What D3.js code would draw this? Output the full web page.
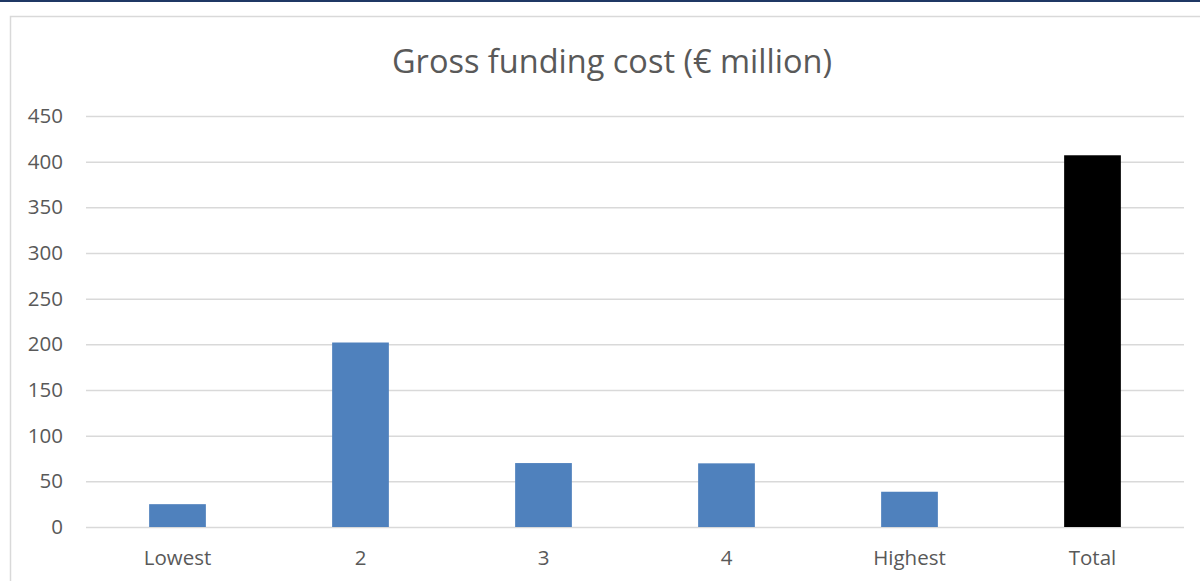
<!DOCTYPE html>
<html>
<head>
<meta charset="utf-8">
<script src="https://cdn.jsdelivr.net/npm/d3@7"></script>
<style>
  html, body { margin: 0; padding: 0; background: #fff; }
  svg { display: block; }
</style>
</head>
<body>
<svg id="chart" width="1200" height="581"></svg>
<script>
// Gross funding cost by group, € million
const categories = ["Lowest", "2", "3", "4", "Highest", "Total"];
const costs = [25, 202, 70, 69.7, 38.6, 407];
const yTicks = [0, 50, 100, 150, 200, 250, 300, 350, 400, 450];
const titleText = "Gross funding cost (€ million)";

const svg = d3.select("#chart");
const W = 1200, H = 581;
const plot = { left: 86, right: 1184, top: 116, bottom: 527 };
const font = "'Open Sans', 'Liberation Sans', sans-serif";

// page rule along the top edge
svg.append("rect").attr("x", 0).attr("y", 0).attr("width", W).attr("height", 2)
  .attr("fill", "#1f3864");

// chart area frame
svg.append("rect").attr("x", 10.5).attr("y", 16.5).attr("width", W + 10).attr("height", H)
  .attr("fill", "#fff").attr("stroke", "#d9d9d9").attr("stroke-width", 1.5);

const x = d3.scaleBand()
  .domain(categories)
  .range([plot.left, plot.right])
  .paddingInner(0.69)
  .paddingOuter(0.345);

const y = d3.scaleLinear()
  .domain([0, 450])
  .range([plot.bottom, plot.top]);

// horizontal gridlines with value labels
const yAxis = d3.axisLeft(y)
  .tickValues(yTicks)
  .tickSize(-(plot.right - plot.left))
  .tickPadding(23);
const gy = svg.append("g").attr("transform", `translate(${plot.left},0)`).call(yAxis);
gy.select(".domain").remove();
gy.selectAll(".tick line").attr("stroke", "#d9d9d9").attr("stroke-width", 1.5);
gy.selectAll(".tick text")
  .attr("fill", "#595959")
  .style("font-family", font)
  .style("font-size", "20.5px");

// bars
svg.append("g").selectAll("rect")
  .data(categories.map((c, i) => ({ c, v: costs[i] })))
  .join("rect")
  .attr("x", d => x(d.c))
  .attr("y", d => y(d.v))
  .attr("width", x.bandwidth())
  .attr("height", d => y(0) - y(d.v))
  .attr("fill", d => d.c === "Total" ? "#000000" : "#4f81bd");

// category labels
const xAxis = d3.axisBottom(x).tickSize(0).tickPadding(23);
const gx = svg.append("g").attr("transform", `translate(0,${plot.bottom})`).call(xAxis);
gx.select(".domain").remove();
gx.selectAll(".tick text")
  .attr("fill", "#595959")
  .style("font-family", font)
  .style("font-size", "20.5px");

// title
svg.append("text")
  .attr("x", 612).attr("y", 73)
  .attr("text-anchor", "middle")
  .attr("fill", "#595959")
  .style("font-family", font)
  .style("font-size", "32.5px")
  .text(titleText);
</script>
</body>
</html>
